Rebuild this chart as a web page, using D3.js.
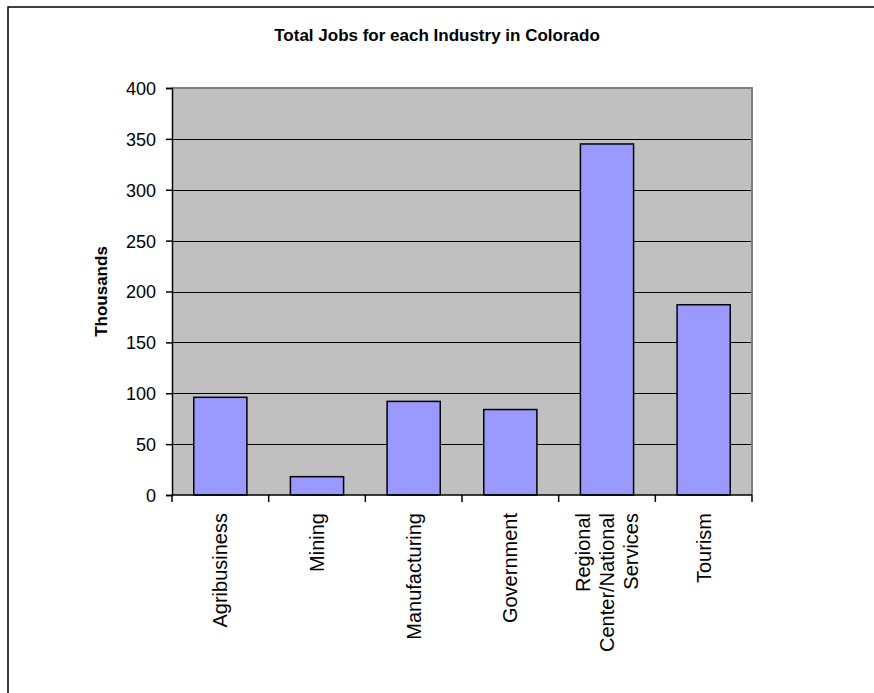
<!DOCTYPE html>
<html>
<head>
<meta charset="utf-8">
<script src="https://cdn.jsdelivr.net/npm/d3@7"></script>
<style>
  html, body { margin: 0; padding: 0; background: #ffffff; }
  svg { display: block; }
  text { font-family: Arial, "Liberation Sans", sans-serif; fill: #000; }
</style>
</head>
<body>
<svg id="chart" width="874" height="693"></svg>
<script>
// Industry employment in Colorado (thousands of jobs)
const categories = [
  ["Agribusiness"],
  ["Mining"],
  ["Manufacturing"],
  ["Government"],
  ["Regional", "Center/National", "Services"],
  ["Tourism"]
];
const jobs = [96, 18, 92, 84, 345, 187];
const yTicks = [0, 50, 100, 150, 200, 250, 300, 350, 400];
const chartTitle = "Total Jobs for each Industry in Colorado";
const yTitle = "Thousands";

const svg = d3.select("#chart");
const plot = { left: 172, right: 752, top: 88, bottom: 495 };

// outer chart frame (continues past the visible edge)
svg.append("rect")
  .attr("x", 8).attr("y", 7)
  .attr("width", 960).attr("height", 800)
  .attr("fill", "#fff")
  .attr("stroke", "#000").attr("stroke-width", 1.5);

const names = categories.map(c => c.join(" "));
const x = d3.scaleBand()
  .domain(names)
  .range([plot.left, plot.right])
  .paddingInner(0.45)
  .paddingOuter(0.225);

const y = d3.scaleLinear()
  .domain([0, 400])
  .range([plot.bottom, plot.top]);

// plot background
svg.append("rect")
  .attr("x", plot.left).attr("y", plot.top)
  .attr("width", plot.right - plot.left)
  .attr("height", plot.bottom - plot.top)
  .attr("fill", "#c0c0c0");

// horizontal gridlines
svg.append("g")
  .selectAll("line")
  .data(yTicks.filter(t => t > 0 && t < 400))
  .join("line")
  .attr("x1", plot.left).attr("x2", plot.right)
  .attr("y1", d => Math.round(y(d)) + 0.5)
  .attr("y2", d => Math.round(y(d)) + 0.5)
  .attr("stroke", "#000").attr("stroke-width", 1);

// plot border (top and right in grey)
svg.append("path")
  .attr("d", `M${plot.left},${plot.top}H${plot.right}V${plot.bottom}`)
  .attr("fill", "none")
  .attr("stroke", "#808080").attr("stroke-width", 2);

// bars
svg.append("g")
  .selectAll("rect")
  .data(jobs)
  .join("rect")
  .attr("x", (d, i) => x(names[i]))
  .attr("y", d => y(d))
  .attr("width", x.bandwidth())
  .attr("height", d => y(0) - y(d))
  .attr("fill", "#9999ff")
  .attr("stroke", "#000").attr("stroke-width", 1.5);

// y axis
const yAxis = d3.axisLeft(y)
  .tickValues(yTicks)
  .tickSize(6)
  .tickPadding(10)
  .tickFormat(d3.format("d"));
const gy = svg.append("g")
  .attr("transform", `translate(${plot.left},0)`)
  .call(yAxis);
gy.select(".domain").attr("stroke", "#000").attr("stroke-width", 1.5);
gy.selectAll(".tick line").attr("stroke", "#000").attr("stroke-width", 1.5);
gy.selectAll(".tick text")
  .attr("font-size", 18)
  .attr("font-family", "Arial, 'Liberation Sans', sans-serif")
  .attr("dy", "0.36em");

// x axis: ticks between categories
const step = x.step();
const xBoundaries = d3.range(categories.length + 1).map(i => plot.left + i * step);
svg.append("line")
  .attr("x1", plot.left).attr("x2", plot.right)
  .attr("y1", plot.bottom).attr("y2", plot.bottom)
  .attr("stroke", "#000").attr("stroke-width", 1.5);
svg.append("g")
  .selectAll("line")
  .data(xBoundaries)
  .join("line")
  .attr("x1", d => d).attr("x2", d => d)
  .attr("y1", plot.bottom).attr("y2", plot.bottom + 7)
  .attr("stroke", "#000").attr("stroke-width", 1.5);

// rotated category labels
const lineH = 24;
const labelG = svg.append("g")
  .selectAll("g")
  .data(categories)
  .join("g")
  .attr("transform", (d, i) => `translate(${x(names[i]) + x.bandwidth() / 2},${plot.bottom + 18}) rotate(-90)`);
labelG.append("text")
  .attr("text-anchor", "end")
  .attr("font-size", 20)
  .selectAll("tspan")
  .data(d => d.map((line, j) => ({ line, j, n: d.length })))
  .join("tspan")
  .attr("x", 0)
  .attr("y", d => (d.j - (d.n - 1) / 2) * lineH)
  .attr("dy", "0.35em")
  .text(d => d.line);

// chart title
svg.append("text")
  .attr("x", (plot.left + plot.right) / 2 - 25)
  .attr("y", 41)
  .attr("text-anchor", "middle")
  .attr("font-size", 17)
  .attr("font-weight", "bold")
  .text(chartTitle);

// y axis title
svg.append("text")
  .attr("transform", `translate(107,${(plot.top + plot.bottom) / 2}) rotate(-90)`)
  .attr("text-anchor", "middle")
  .attr("font-size", 17)
  .attr("font-weight", "bold")
  .text(yTitle);
</script>
</body>
</html>
